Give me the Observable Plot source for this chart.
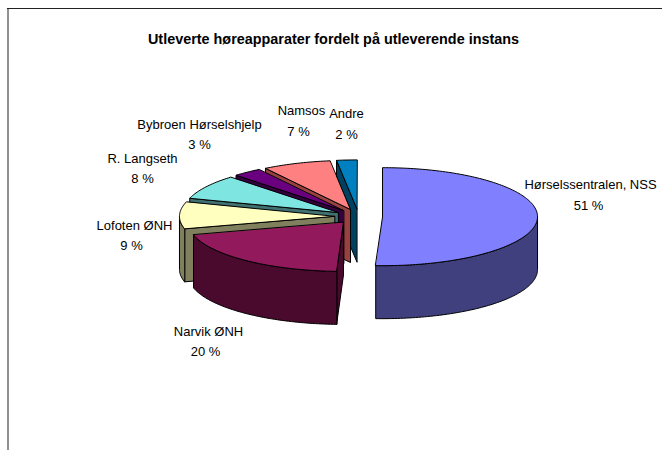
<!DOCTYPE html>
<html><head><meta charset="utf-8">
<script src="https://cdn.jsdelivr.net/npm/d3@7"></script>
<script src="https://cdn.jsdelivr.net/npm/@observablehq/plot@0.6"></script>
<style>html,body{margin:0;padding:0;background:#fff}svg{display:block}</style>
</head><body><div id="chart"></div>
<script>
const categories = ["Hørselssentralen, NSS","Narvik ØNH","Lofoten ØNH","R. Langseth","Bybroen Hørselshjelp","Namsos","Andre"];
const shares = [50.7,20.2,8.8,8.1,3.0,7.1,2.1];
const titleText = "Utleverte høreapparater fordelt på utleverende instans";

// styling and layout, kept apart from the data
const topColors  = ["#8080FF","#921A5C","#FFFFC0","#7FE5E0","#6A0080","#FF8080","#0080C0"];
const sideColors = ["#40407F","#4A0A2E","#80805F","#407070","#350040","#994040","#004060"];
const W=662,H=450,cx=358,cy=216,rx=155,ry=49,depth=53/49,explode=0.155;
const namePx=[[590,184],[208,331],[134,225],[142,158],[199,124],[301,110],[346,113]];
const valPx=[[588,205],[205,351],[131,245],[142,178],[199,144],[298,131],[346,134]];

const X=px=>(px-cx)/rx, Y=px=>(px-cy)/ry;
const total=d3.sum(shares);
let acc=0;
const slices=shares.map((v,i)=>{const a0=acc/total*2*Math.PI;acc+=v;const a1=acc/total*2*Math.PI;
  const m=(a0+a1)/2;return {i,a0,a1,ox:explode*Math.sin(m),oy:-explode*Math.cos(m)};});
const rim=(s,a,z=0)=>({x:s.ox+Math.sin(a),y:s.oy-Math.cos(a)+z});
const arc=(s,a0,a1,z=0)=>{const n=Math.max(2,Math.ceil((a1-a0)/0.02));return d3.range(n+1).map(k=>rim(s,a0+(a1-a0)*k/n,z));};
const apex=(s,z=0)=>({x:s.ox,y:s.oy+z});
const face=(pts,fill)=>Plot.line(pts,{x:"x",y:"y",fill,stroke:"#000",strokeWidth:1,curve:"linear-closed",strokeLinejoin:"round"});

const marks=[];
[...slices].reverse().forEach(s=>{
  const c=sideColors[s.i];
  if(s.a0>=Math.PI) marks.push(face([apex(s),rim(s,s.a0),rim(s,s.a0,depth),apex(s,depth)],c));
  const f0=Math.max(s.a0,Math.PI/2),f1=Math.min(s.a1,3*Math.PI/2);
  if(f1>f0) marks.push(face([...arc(s,f0,f1),...arc(s,f0,f1,depth).reverse()],c));
  marks.push(face([apex(s),...arc(s,s.a0,s.a1)],topColors[s.i]));
});
const txt={fontFamily:"'Liberation Sans',Arial,sans-serif",fontSize:13,fill:"#000",textAnchor:"middle",lineAnchor:"middle"};
const nameRows=categories.map((n,i)=>({t:n,x:X(namePx[i][0]),y:Y(namePx[i][1])}));
const valRows=shares.map((v,i)=>({t:Math.round(v)+" %",x:X(valPx[i][0]),y:Y(valPx[i][1])}));
marks.push(Plot.text(nameRows,{x:"x",y:"y",text:"t",...txt}));
marks.push(Plot.text(valRows,{x:"x",y:"y",text:"t",...txt}));
marks.push(Plot.text([titleText],{x:X(333),y:Y(39),text:d=>d,...txt,fontSize:14.4,fontWeight:"bold"}));
marks.push(Plot.ruleY([Y(8)],{x1:X(7),x2:X(662),stroke:"#222",strokeWidth:1}));
marks.push(Plot.ruleX([X(7.5)],{y1:Y(8),y2:Y(450),stroke:"#222",strokeWidth:1}));

document.getElementById("chart").append(Plot.plot({
  width:W,height:H,margin:0,style:{background:"#fff",overflow:"visible"},
  x:{domain:[X(0),X(W)],range:[0,W],axis:null},
  y:{domain:[Y(0),Y(H)],range:[0,H],axis:null},
  marks
}));
</script></body></html>
